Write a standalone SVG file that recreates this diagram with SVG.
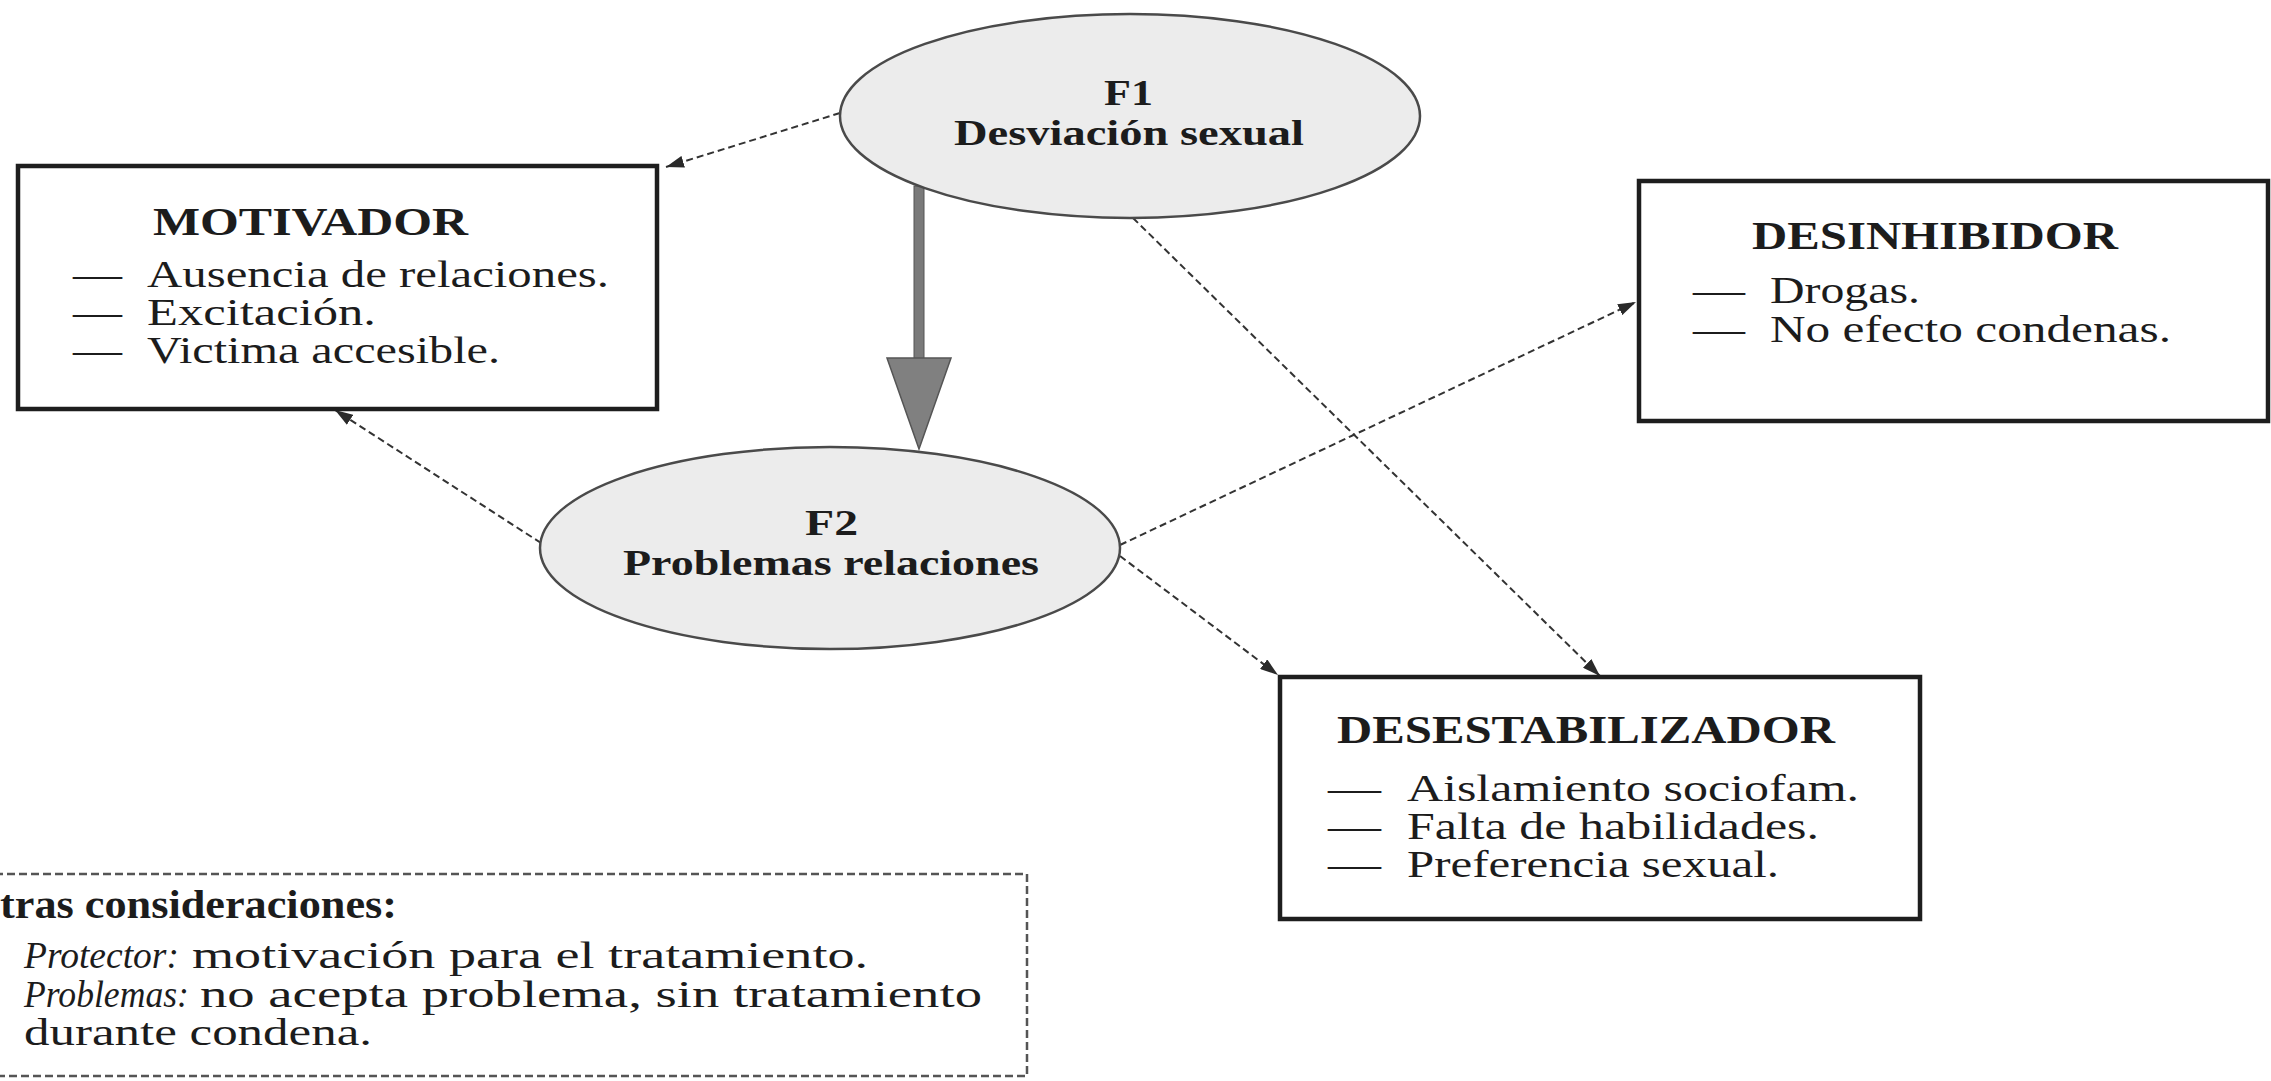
<svg xmlns="http://www.w3.org/2000/svg" width="2271" height="1081" viewBox="0 0 2271 1081">
<defs>
<style>
.t{font-family:"Liberation Serif","Times New Roman",serif;fill:#1c1c1c}
.b{font-weight:bold;font-size:39px}
.e{font-weight:bold;font-size:35px}
.r{font-size:37px}
.i{font-style:italic}
.box{fill:#fff;stroke:#1e1e1e;stroke-width:4.5}
.ell{fill:#ececec;stroke:#4a4a4a;stroke-width:2.5}
.con{fill:none;stroke:#333;stroke-width:2;stroke-dasharray:7 4}
.note{fill:none;stroke:#555;stroke-width:2.5;stroke-dasharray:8 4}
</style>
<marker id="ah" viewBox="0 0 18 12" refX="18" refY="6" markerWidth="18" markerHeight="12" orient="auto" markerUnits="userSpaceOnUse">
<path d="M0,0 L18,6 L0,12 z" fill="#2a2a2a"/>
</marker>
</defs>
<rect width="2271" height="1081" fill="#fff"/>

<g id="connectors">
<path class="con" d="M840 113 L666 167" marker-end="url(#ah)"/>
<path class="con" d="M541 543 L335 410" marker-end="url(#ah)"/>
<path class="con" d="M1120 545 L1636 302" marker-end="url(#ah)"/>
<path class="con" d="M1120 556 L1278 675" marker-end="url(#ah)"/>
<path class="con" d="M1133 218 L1600 676" marker-end="url(#ah)"/>
<g id="thick-arrow">
<rect x="914" y="186" width="10" height="174" fill="#7a7a7a" stroke="#555" stroke-width="1"/>
<polygon points="887,358 951,358 919,449" fill="#808080" stroke="#555" stroke-width="1.5"/>
</g>
</g>

<g id="motivador">
<rect class="box" x="18" y="166" width="639" height="243"/>
<text class="t b" x="153" y="235" textLength="315" lengthAdjust="spacingAndGlyphs">MOTIVADOR</text>
<text class="t r" x="73" y="287" textLength="49" lengthAdjust="spacingAndGlyphs">—</text>
<text class="t r" x="73" y="325" textLength="49" lengthAdjust="spacingAndGlyphs">—</text>
<text class="t r" x="73" y="363" textLength="49" lengthAdjust="spacingAndGlyphs">—</text>
<text class="t r" x="147" y="287" textLength="462" lengthAdjust="spacingAndGlyphs">Ausencia de relaciones.</text>
<text class="t r" x="147" y="325" textLength="229" lengthAdjust="spacingAndGlyphs">Excitación.</text>
<text class="t r" x="147" y="363" textLength="353" lengthAdjust="spacingAndGlyphs">Victima accesible.</text>
</g>

<g id="f1">
<ellipse class="ell" cx="1130" cy="116" rx="290" ry="102"/>
<text class="t e" x="1104" y="105" textLength="49" lengthAdjust="spacingAndGlyphs">F1</text>
<text class="t e" x="954" y="145" textLength="350" lengthAdjust="spacingAndGlyphs">Desviación sexual</text>
</g>

<g id="f2">
<ellipse class="ell" cx="830" cy="548" rx="290" ry="101"/>
<text class="t e" x="805" y="535" textLength="53" lengthAdjust="spacingAndGlyphs">F2</text>
<text class="t e" x="623" y="575" textLength="416" lengthAdjust="spacingAndGlyphs">Problemas relaciones</text>
</g>

<g id="desinhibidor">
<rect class="box" x="1639" y="181" width="629" height="240"/>
<text class="t b" x="1752" y="249" textLength="366" lengthAdjust="spacingAndGlyphs">DESINHIBIDOR</text>
<text class="t r" x="1693" y="303" textLength="52" lengthAdjust="spacingAndGlyphs">—</text>
<text class="t r" x="1693" y="342" textLength="52" lengthAdjust="spacingAndGlyphs">—</text>
<text class="t r" x="1770" y="303" textLength="150" lengthAdjust="spacingAndGlyphs">Drogas.</text>
<text class="t r" x="1770" y="342" textLength="401" lengthAdjust="spacingAndGlyphs">No efecto condenas.</text>
</g>

<g id="desestabilizador">
<rect class="box" x="1280" y="677" width="640" height="242"/>
<text class="t b" x="1337" y="743" textLength="498" lengthAdjust="spacingAndGlyphs">DESESTABILIZADOR</text>
<text class="t r" x="1328" y="801" textLength="53" lengthAdjust="spacingAndGlyphs">—</text>
<text class="t r" x="1328" y="839" textLength="53" lengthAdjust="spacingAndGlyphs">—</text>
<text class="t r" x="1328" y="877" textLength="53" lengthAdjust="spacingAndGlyphs">—</text>
<text class="t r" x="1407" y="801" textLength="452" lengthAdjust="spacingAndGlyphs">Aislamiento sociofam.</text>
<text class="t r" x="1407" y="839" textLength="412" lengthAdjust="spacingAndGlyphs">Falta de habilidades.</text>
<text class="t r" x="1407" y="877" textLength="372" lengthAdjust="spacingAndGlyphs">Preferencia sexual.</text>
</g>

<g id="otras">
<path class="note" d="M-5 874 H1027 V1076 H-5"/>
<text class="t b" x="0" y="918" textLength="397" lengthAdjust="spacingAndGlyphs">tras consideraciones:</text>
<text class="t r i" x="24" y="968" textLength="155" lengthAdjust="spacingAndGlyphs">Protector:</text>
<text class="t r" x="192" y="968" textLength="676" lengthAdjust="spacingAndGlyphs">motivación para el tratamiento.</text>
<text class="t r i" x="24" y="1007" textLength="165" lengthAdjust="spacingAndGlyphs">Problemas:</text>
<text class="t r" x="200" y="1007" textLength="782" lengthAdjust="spacingAndGlyphs">no acepta problema, sin tratamiento</text>
<text class="t r" x="24" y="1045" textLength="348" lengthAdjust="spacingAndGlyphs">durante condena.</text>
</g>
</svg>
